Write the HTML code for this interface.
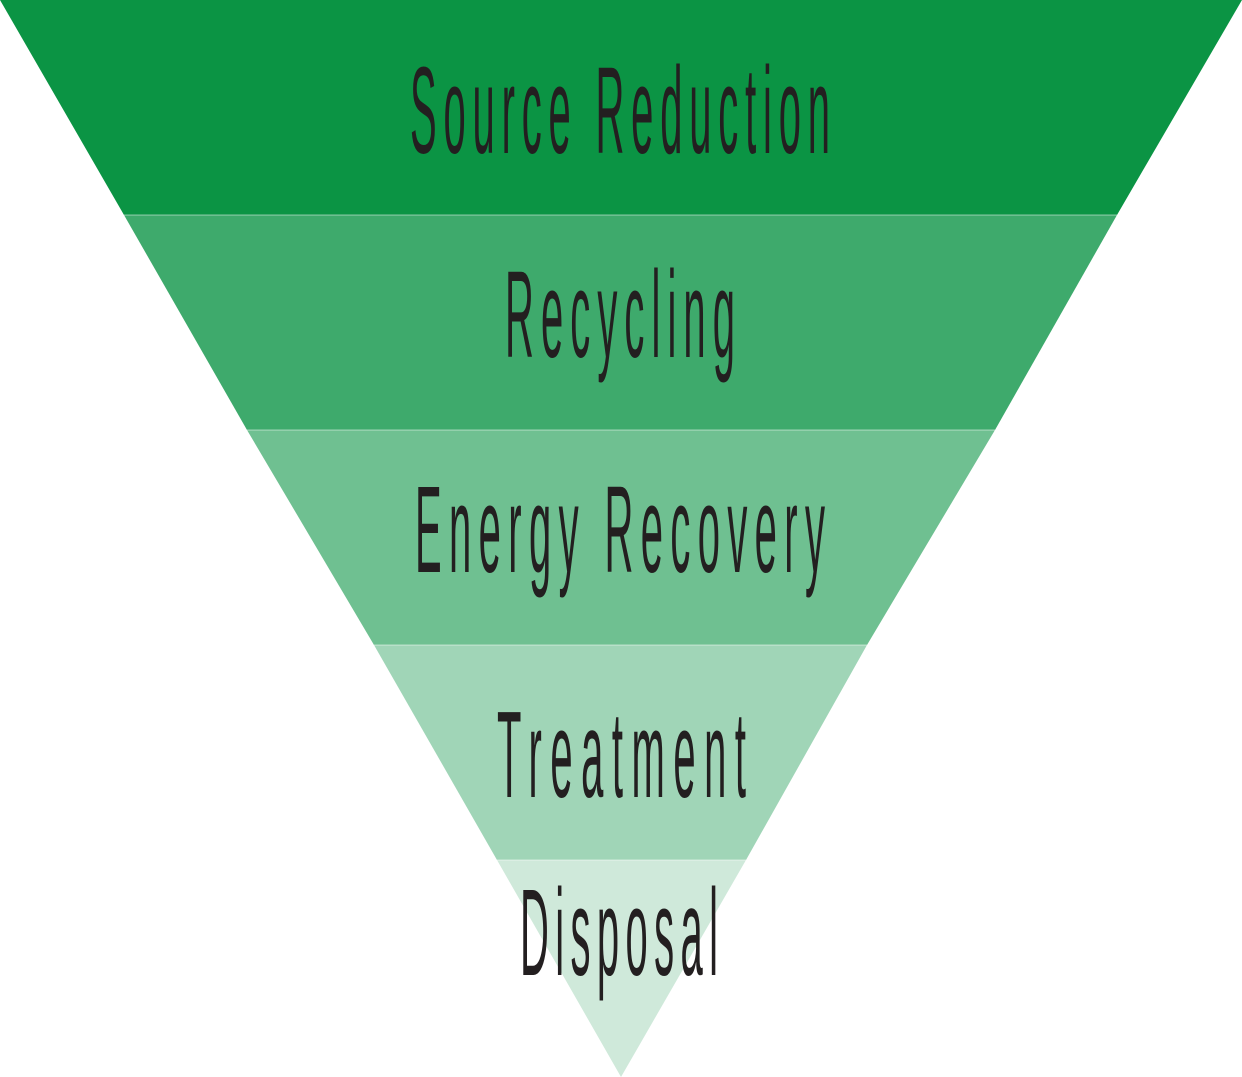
<!DOCTYPE html>
<html><head><meta charset="utf-8"><style>
html,body{margin:0;padding:0;background:#fff;}
svg{display:block;}
text{font-family:"Liberation Sans",sans-serif;font-size:40px;fill:#231f20;}
</style></head><body>
<svg width="1242" height="1077" viewBox="0 0 1242 1077" xmlns="http://www.w3.org/2000/svg">
<polygon points="0,0 1242,0 1117,215 124,215" fill="#0b9444"/>
<polygon points="124,215 1117,215 995,430 247,430" fill="#3eaa6c"/>
<polygon points="247,430 995,430 867,645 374,645" fill="#6fc091"/>
<polygon points="374,645 867,645 746,860 497,860" fill="#a0d5b7"/>
<polygon points="497,860 746,860 621,1077" fill="#cfe9da"/>
<line x1="124" y1="215" x2="1117" y2="215" stroke="#fff" stroke-width="1" opacity="0.5"/>
<line x1="247" y1="430" x2="995" y2="430" stroke="#fff" stroke-width="1" opacity="0.5"/>
<line x1="374" y1="645" x2="867" y2="645" stroke="#fff" stroke-width="1" opacity="0.5"/>
<line x1="497" y1="860" x2="746" y2="860" stroke="#fff" stroke-width="1" opacity="0.5"/>
<g transform="translate(410,153) scale(1,3.08)"><text x="0" y="0" textLength="420" lengthAdjust="spacing">Source Reduction</text></g>
<g transform="translate(505,357) scale(1,3.08)"><text x="0" y="0" textLength="230" lengthAdjust="spacing">Recycling</text></g>
<g transform="translate(415,572) scale(1,3.08)"><text x="0" y="0" textLength="410" lengthAdjust="spacing">Energy Recovery</text></g>
<g transform="translate(497,797) scale(1,3.08)"><text x="0" y="0" textLength="249" lengthAdjust="spacing">Treatment</text></g>
<g transform="translate(520,975) scale(1,3.08)"><text x="0" y="0" textLength="198" lengthAdjust="spacing">Disposal</text></g>
</svg>
</body></html>
